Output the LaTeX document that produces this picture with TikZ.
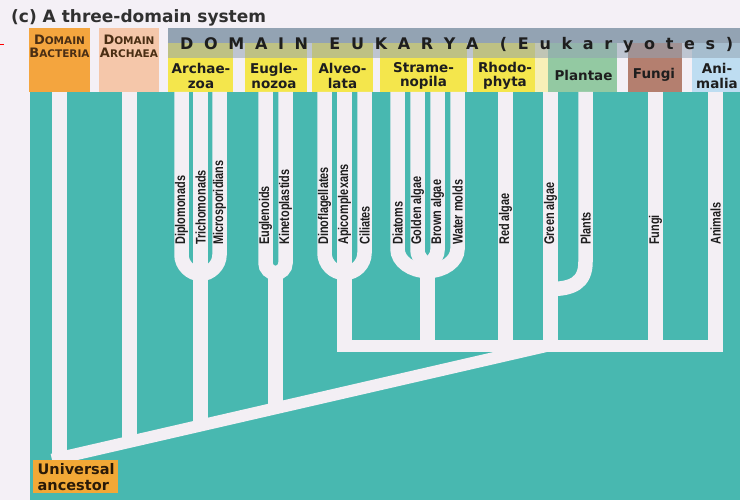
\documentclass[tikz,border=0pt]{standalone}
\usepackage{fontspec}
\setmainfont{Liberation Sans}
\newfontfamily\dvs{DejaVu Sans}
\newcommand{\capsA}[2]{{\fontsize{13}{13}\selectfont #1}{\fontsize{10.5}{13}\selectfont #2}}
\newcommand{\narrowtxt}[1]{\scalebox{0.78}[1]{#1}}
\definecolor{bgc}{HTML}{F4F0F6}
\definecolor{tealc}{HTML}{48B8B0}
\definecolor{wline}{HTML}{F3EFF4}
\definecolor{bactc}{HTML}{F4A53E}
\definecolor{archc}{HTML}{F5C7AA}
\definecolor{ygrp}{HTML}{F4E64C}
\definecolor{pyel}{HTML}{F7F0B8}
\definecolor{plntc}{HTML}{93C9A2}
\definecolor{fungc}{HTML}{B47F6F}
\definecolor{animc}{HTML}{BEDDF1}
\definecolor{gband}{HTML}{93A3B3}
\definecolor{txtd}{HTML}{1E1E1E}
\definecolor{titlec}{HTML}{303030}
\definecolor{domt}{HTML}{4A2E14}
\definecolor{ancc}{HTML}{F2A836}
\definecolor{anct}{HTML}{2A1A08}
\begin{document}
\begin{tikzpicture}[x=1pt,y=-1pt,
  wl/.style={draw=wline, line width=14.5pt},
  bandline/.style={draw=wline, line width=12pt},
  lbl/.style={rotate=90, anchor=west, inner sep=0pt, font=\bfseries\fontsize{14}{15}\selectfont, text=txtd},
  grp/.style={font=\dvs\bfseries\fontsize{13.5}{14.5}\selectfont, align=center, text=txtd, inner sep=0pt},
  dom/.style={font=\dvs\bfseries\fontsize{10.5}{13}\selectfont, align=center, text=domt, inner sep=0pt},
]
\useasboundingbox (0,0) rectangle (740,500);
\fill[bgc] (0,0) rectangle (740,500);
\fill[tealc] (30,92) rectangle (740,500);
% header columns
\fill[bactc] (29,28) rectangle (90,92);
\fill[archc] (99,28) rectangle (159,92);
\fill[ygrp] (168,28) rectangle (233,92);
\fill[ygrp] (245,28) rectangle (307,92);
\fill[ygrp] (312,28) rectangle (373,92);
\fill[ygrp] (380,28) rectangle (467,92);
\fill[ygrp] (473,28) rectangle (535,92);
\fill[pyel] (535,28) rectangle (548,92);
\fill[plntc] (548,28) rectangle (617,92);
\fill[fungc] (628,28) rectangle (682,92);
\fill[animc] (692,28) rectangle (740,92);
\fill[gband] (168,28) rectangle (740,43);
\fill[gband, opacity=0.55] (168,43) rectangle (740,58);
\draw[red, line width=0.8pt] (0,44) -- (4,44);
% title
\node[anchor=base west, inner sep=0pt, font=\dvs\bfseries\fontsize{17}{20}\selectfont, text=titlec] (title) at (11,23) {(c) A three-domain system};
% domains
\node[dom] (bact) at (59.5,46) {\capsA{D}{OMAIN}\\\capsA{B}{ACTERIA}};
\node[dom] (arch) at (129,46) {\capsA{D}{OMAIN}\\\capsA{A}{RCHAEA}};
\node[anchor=west, inner sep=0pt, font=\dvs\bfseries\fontsize{16}{16}\selectfont, text=txtd] (euk) at (180,45.5) {\makebox[553pt][s]{D\hfill O\hfill M\hfill A\hfill I\hfill N\hfill\hfill E\hfill U\hfill K\hfill A\hfill R\hfill Y\hfill A\hfill\hfill (\hfill E\hfill u\hfill k\hfill a\hfill r\hfill y\hfill o\hfill t\hfill e\hfill s\hfill )}};
% groups
\node[grp] (g1) at (201,76) {Archae-\\zoa};
\node[grp] (g2) at (274,76) {Eugle-\\nozoa};
\node[grp] (g3) at (342.5,76) {Alveo-\\lata};
\node[grp] (g4) at (423.5,76) {Strame-\\nopila};
\node[grp] (g5) at (505,76) {Rhodo-\\phyta};
\node[grp] (g6) at (583.5,75) {Plantae};
\node[grp] (g7) at (654,75) {Fungi};
\node[grp] (g8) at (717,76) {Ani-\\malia};
% white branches
\draw[wl] (59.5,92) -- (59.5,462);
\draw[wl] (129.5,92) -- (129.5,442);
\draw[wl] (181.5,92) -- (181.5,255) .. controls (181.5,265) and (190.5,274) .. (200.5,274) .. controls (210.5,274) and (219.5,265) .. (219.5,255) -- (219.5,92);
\draw[wl] (200.5,92) -- (200.5,426);
\draw[wl] (265.5,92) -- (265.5,263) .. controls (265.5,268.5) and (270,273) .. (275.5,273) .. controls (281,273) and (285.5,268.5) .. (285.5,263) -- (285.5,92);
\draw[wl] (275.5,270) -- (275.5,409);
\draw[wl] (324.5,92) -- (324.5,253) .. controls (324.5,264) and (333.5,273) .. (344.5,273) .. controls (355.5,273) and (364.5,264) .. (364.5,253) -- (364.5,92);
\draw[wl] (344.5,92) -- (344.5,352);
\draw[wl] (397.5,92) -- (397.5,249) .. controls (397.5,261) and (411,271) .. (427.5,271) .. controls (444,271) and (457.5,261) .. (457.5,249) -- (457.5,92);
\draw[wl] (417.5,92) -- (417.5,250) .. controls (417.5,260) and (427.5,262) .. (427.5,272);
\draw[wl] (437.5,92) -- (437.5,250) .. controls (437.5,260) and (427.5,262) .. (427.5,272);
\draw[wl] (427.5,268) -- (427.5,346);
\draw[wl] (505.5,92) -- (505.5,346);
\draw[wl] (550.5,92) -- (550.5,346);
\draw[wl] (585.5,92) -- (585.5,262) .. controls (585.5,283) and (572,289) .. (550.5,289);
\draw[wl] (655.5,92) -- (655.5,346);
\draw[wl] (715.5,92) -- (715.5,352);
\draw[bandline] (337.25,346) -- (722.75,346);
\draw[bandline] (52,459.7) -- (552,344.7);
% labels
\node[lbl] (l1) at (181.5,245) {\narrowtxt{Diplomonads}};
\node[lbl] (l2) at (200.5,245) {\narrowtxt{Trichomonads}};
\node[lbl] (l3) at (219.5,245) {\narrowtxt{Microsporidians}};
\node[lbl] (l4) at (265.5,245) {\narrowtxt{Euglenoids}};
\node[lbl] (l5) at (285.5,245) {\narrowtxt{Kinetoplastids}};
\node[lbl] (l6) at (324.5,245) {\narrowtxt{Dinoflagellates}};
\node[lbl] (l7) at (344.5,245) {\narrowtxt{Apicomplexans}};
\node[lbl] (l8) at (364.5,245) {\narrowtxt{Ciliates}};
\node[lbl] (l9) at (397.5,245) {\narrowtxt{Diatoms}};
\node[lbl] (l10) at (417.5,245) {\narrowtxt{Golden algae}};
\node[lbl] (l11) at (437.5,245) {\narrowtxt{Brown algae}};
\node[lbl] (l12) at (457.5,245) {\narrowtxt{Water molds}};
\node[lbl] (l13) at (505.5,245) {\narrowtxt{Red algae}};
\node[lbl] (l14) at (550.5,245) {\narrowtxt{Green algae}};
\node[lbl] (l15) at (585.5,245) {\narrowtxt{Plants}};
\node[lbl] (l16) at (655.5,245) {\narrowtxt{Fungi}};
\node[lbl] (l17) at (715.5,245) {\narrowtxt{Animals}};
% universal ancestor
\node[fill=ancc, minimum width=85pt, minimum height=33pt, anchor=north west, inner sep=0pt] (ua) at (33,460) {};
\node[anchor=north west, align=left, inner sep=0pt, font=\dvs\bfseries\fontsize{14.5}{16}\selectfont, text=anct] (uat) at (37.5,463) {Universal\\ancestor};
\end{tikzpicture}
\end{document}
